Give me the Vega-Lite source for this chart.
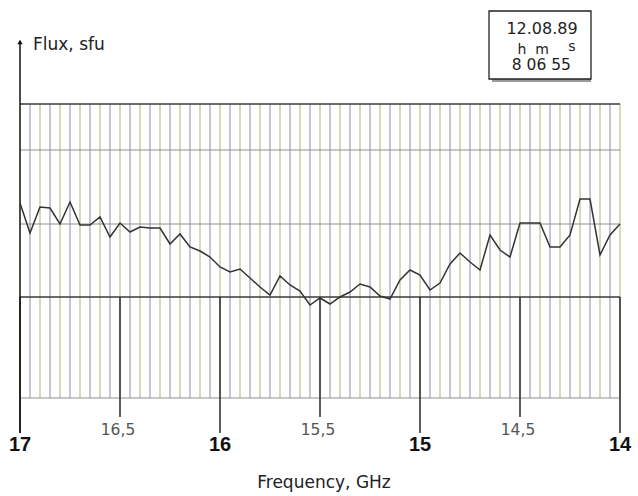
{
  "$schema": "https://vega.github.io/schema/vega-lite/v6.json",
  "width": 600,
  "height": 294,
  "autosize": "none",
  "padding": {"left": 20, "top": 104, "right": 18, "bottom": 98},
  "background": "white",
  "config": {"view": {"stroke": null}, "font": "DejaVu Sans"},
  "datasets": {
    "flux": [
      {"f": 17.00, "flux": 195}, {"f": 16.95, "flux": 165}, {"f": 16.90, "flux": 191}, {"f": 16.85, "flux": 190},
      {"f": 16.80, "flux": 174}, {"f": 16.75, "flux": 196}, {"f": 16.70, "flux": 173}, {"f": 16.65, "flux": 173},
      {"f": 16.60, "flux": 181}, {"f": 16.55, "flux": 161}, {"f": 16.50, "flux": 175}, {"f": 16.45, "flux": 166},
      {"f": 16.40, "flux": 171}, {"f": 16.35, "flux": 170}, {"f": 16.30, "flux": 170}, {"f": 16.25, "flux": 154},
      {"f": 16.20, "flux": 164}, {"f": 16.15, "flux": 151}, {"f": 16.10, "flux": 147}, {"f": 16.05, "flux": 141},
      {"f": 16.00, "flux": 131}, {"f": 15.95, "flux": 126}, {"f": 15.90, "flux": 129}, {"f": 15.85, "flux": 120},
      {"f": 15.80, "flux": 111}, {"f": 15.75, "flux": 103}, {"f": 15.70, "flux": 122}, {"f": 15.65, "flux": 113},
      {"f": 15.60, "flux": 107}, {"f": 15.55, "flux": 93}, {"f": 15.50, "flux": 100}, {"f": 15.45, "flux": 94},
      {"f": 15.40, "flux": 101}, {"f": 15.35, "flux": 106}, {"f": 15.30, "flux": 114}, {"f": 15.25, "flux": 111},
      {"f": 15.20, "flux": 102}, {"f": 15.15, "flux": 99}, {"f": 15.10, "flux": 118}, {"f": 15.05, "flux": 128},
      {"f": 15.00, "flux": 123}, {"f": 14.95, "flux": 108}, {"f": 14.90, "flux": 115}, {"f": 14.85, "flux": 134},
      {"f": 14.80, "flux": 145}, {"f": 14.75, "flux": 136}, {"f": 14.70, "flux": 128}, {"f": 14.65, "flux": 163},
      {"f": 14.60, "flux": 148}, {"f": 14.55, "flux": 141}, {"f": 14.50, "flux": 175}, {"f": 14.45, "flux": 175},
      {"f": 14.40, "flux": 175}, {"f": 14.35, "flux": 151}, {"f": 14.30, "flux": 151}, {"f": 14.25, "flux": 163},
      {"f": 14.20, "flux": 199}, {"f": 14.15, "flux": 199}, {"f": 14.10, "flux": 143}, {"f": 14.05, "flux": 163},
      {"f": 14.00, "flux": 174}
    ],
    "grid": [
      {"f": 16.95}, {"f": 16.90}, {"f": 16.85}, {"f": 16.80}, {"f": 16.75}, {"f": 16.70}, {"f": 16.65}, {"f": 16.60},
      {"f": 16.55}, {"f": 16.50}, {"f": 16.45}, {"f": 16.40}, {"f": 16.35}, {"f": 16.30}, {"f": 16.25}, {"f": 16.20},
      {"f": 16.15}, {"f": 16.10}, {"f": 16.05}, {"f": 16.00}, {"f": 15.95}, {"f": 15.90}, {"f": 15.85}, {"f": 15.80},
      {"f": 15.75}, {"f": 15.70}, {"f": 15.65}, {"f": 15.60}, {"f": 15.55}, {"f": 15.50}, {"f": 15.45}, {"f": 15.40},
      {"f": 15.35}, {"f": 15.30}, {"f": 15.25}, {"f": 15.20}, {"f": 15.15}, {"f": 15.10}, {"f": 15.05}, {"f": 15.00},
      {"f": 14.95}, {"f": 14.90}, {"f": 14.85}, {"f": 14.80}, {"f": 14.75}, {"f": 14.70}, {"f": 14.65}, {"f": 14.60},
      {"f": 14.55}, {"f": 14.50}, {"f": 14.45}, {"f": 14.40}, {"f": 14.35}, {"f": 14.30}, {"f": 14.25}, {"f": 14.20},
      {"f": 14.15}, {"f": 14.10}, {"f": 14.05}, {"f": 14.00}
    ],
    "hlines": [
      {"v": 294, "kind": "dark"}, {"v": 248, "kind": "light"}, {"v": 174, "kind": "light"},
      {"v": 101, "kind": "dark"}, {"v": 0, "kind": "light"}
    ],
    "ticks": [
      {"f": 17.0, "label": "17", "kind": "major", "lo": -35},
      {"f": 16.5, "label": "16,5", "kind": "minor", "lo": -19},
      {"f": 16.0, "label": "16", "kind": "major", "lo": -35},
      {"f": 15.5, "label": "15,5", "kind": "minor", "lo": -19},
      {"f": 15.0, "label": "15", "kind": "major", "lo": -35},
      {"f": 14.5, "label": "14,5", "kind": "minor", "lo": -19},
      {"f": 14.0, "label": "14", "kind": "major", "lo": -35}
    ]
  },
  "layer": [
    {
      "data": {"name": "grid"},
      "mark": {"type": "rule", "strokeWidth": 1.3},
      "encoding": {
        "x": {"field": "f", "type": "quantitative", "scale": {"domain": [14, 17], "reverse": true, "nice": false, "zero": false}, "axis": null},
        "y": {"datum": 0, "type": "quantitative", "scale": {"domain": [0, 294], "nice": false, "zero": false}, "axis": null},
        "y2": {"datum": 294},
        "color": {"condition": {"test": "round(datum.f * 20) % 2 == 0", "value": "#c2c596"}, "value": "#a8a8bc"}
      }
    },
    {
      "data": {"name": "hlines"},
      "mark": {"type": "rule"},
      "encoding": {
        "y": {"field": "v", "type": "quantitative"},
        "x": {"datum": 17},
        "x2": {"datum": 14},
        "color": {"condition": {"test": "datum.kind == 'dark'", "value": "#3a3a3a"}, "value": "#8f8f8f"},
        "strokeWidth": {"condition": {"test": "datum.kind == 'dark'", "value": 1.5}, "value": 1.2}
      }
    },
    {
      "data": {"name": "ticks"},
      "mark": {"type": "rule", "color": "#2a2a2a", "strokeWidth": 1.5},
      "encoding": {
        "x": {"field": "f", "type": "quantitative"},
        "y": {"field": "lo", "type": "quantitative"},
        "y2": {"datum": 101}
      }
    },
    {
      "data": {"values": [{"f": 17}]},
      "mark": {"type": "rule", "color": "#111111", "strokeWidth": 1.5},
      "encoding": {
        "x": {"field": "f", "type": "quantitative"},
        "y": {"datum": -35},
        "y2": {"datum": 357}
      }
    },
    {
      "data": {"values": [{"f": 17, "flux": 356}]},
      "mark": {"type": "point", "shape": "triangle-up", "filled": true, "color": "#111111", "size": 28, "opacity": 1},
      "encoding": {
        "x": {"field": "f", "type": "quantitative"},
        "y": {"field": "flux", "type": "quantitative"}
      }
    },
    {
      "data": {"name": "flux"},
      "mark": {"type": "line", "color": "#333333", "strokeWidth": 1.5},
      "encoding": {
        "x": {"field": "f", "type": "quantitative"},
        "y": {"field": "flux", "type": "quantitative"}
      }
    },
    {
      "data": {"name": "ticks"},
      "transform": [{"filter": "datum.kind == 'major'"}],
      "mark": {"type": "text", "align": "center", "baseline": "middle", "font": "Liberation Sans", "fontSize": 20, "fontWeight": "bold", "color": "#111111"},
      "encoding": {
        "x": {"field": "f", "type": "quantitative"},
        "y": {"datum": -47},
        "text": {"field": "label"}
      }
    },
    {
      "data": {"name": "ticks"},
      "transform": [{"filter": "datum.kind == 'minor'"}],
      "mark": {"type": "text", "align": "center", "baseline": "middle", "font": "DejaVu Sans", "fontSize": 15.5, "color": "#555555", "dx": -2},
      "encoding": {
        "x": {"field": "f", "type": "quantitative"},
        "y": {"datum": -32},
        "text": {"field": "label"}
      }
    },
    {
      "data": {"values": [{"f": 15.48, "flux": -85, "t": "Frequency, GHz"}]},
      "mark": {"type": "text", "align": "center", "baseline": "middle", "fontSize": 17, "color": "#222222", "font": "DejaVu Sans"},
      "encoding": {
        "x": {"field": "f", "type": "quantitative"},
        "y": {"field": "flux", "type": "quantitative"},
        "text": {"field": "t"}
      }
    },
    {
      "data": {"values": [{"f": 16.935, "flux": 353, "t": "Flux, sfu"}]},
      "mark": {"type": "text", "align": "left", "baseline": "middle", "fontSize": 17, "color": "#222222", "font": "DejaVu Sans"},
      "encoding": {
        "x": {"field": "f", "type": "quantitative"},
        "y": {"field": "flux", "type": "quantitative"},
        "text": {"field": "t"}
      }
    },
    {
      "data": {"values": [{"a": 14.655, "b": 14.145, "lo": 319, "hi": 387}]},
      "mark": {"type": "rect", "fill": "#9a9a9a", "xOffset": 3, "yOffset": 3},
      "encoding": {
        "x": {"field": "a", "type": "quantitative"},
        "x2": {"field": "b"},
        "y": {"field": "lo", "type": "quantitative"},
        "y2": {"field": "hi"}
      }
    },
    {
      "data": {"values": [{"a": 14.655, "b": 14.145, "lo": 319, "hi": 387}]},
      "mark": {"type": "rect", "fill": "white", "stroke": "#222222", "strokeWidth": 1.3},
      "encoding": {
        "x": {"field": "a", "type": "quantitative"},
        "x2": {"field": "b"},
        "y": {"field": "lo", "type": "quantitative"},
        "y2": {"field": "hi"}
      }
    },
    {
      "data": {"values": [
        {"f": 14.39, "flux": 369, "t": "12.08.89"}
      ]},
      "mark": {"type": "text", "align": "center", "baseline": "middle", "fontSize": 16, "color": "#222222", "font": "DejaVu Sans"},
      "encoding": {
        "x": {"field": "f", "type": "quantitative"},
        "y": {"field": "flux", "type": "quantitative"},
        "text": {"field": "t"}
      }
    },
    {
      "data": {"values": [
        {"f": 14.393, "flux": 340, "t": "8 06 55"}
      ]},
      "mark": {"type": "text", "align": "center", "baseline": "top", "fontSize": 15.5, "color": "#222222", "font": "DejaVu Sans"},
      "encoding": {
        "x": {"field": "f", "type": "quantitative"},
        "y": {"field": "flux", "type": "quantitative"},
        "text": {"field": "t"}
      }
    },
    {
      "data": {"values": [
        {"f": 14.49, "flux": 341, "t": "h"},
        {"f": 14.39, "flux": 341, "t": "m"},
        {"f": 14.24, "flux": 344, "t": "s"}
      ]},
      "mark": {"type": "text", "align": "center", "baseline": "bottom", "fontSize": 14, "color": "#222222", "font": "DejaVu Sans"},
      "encoding": {
        "x": {"field": "f", "type": "quantitative"},
        "y": {"field": "flux", "type": "quantitative"},
        "text": {"field": "t"}
      }
    }
  ]
}
